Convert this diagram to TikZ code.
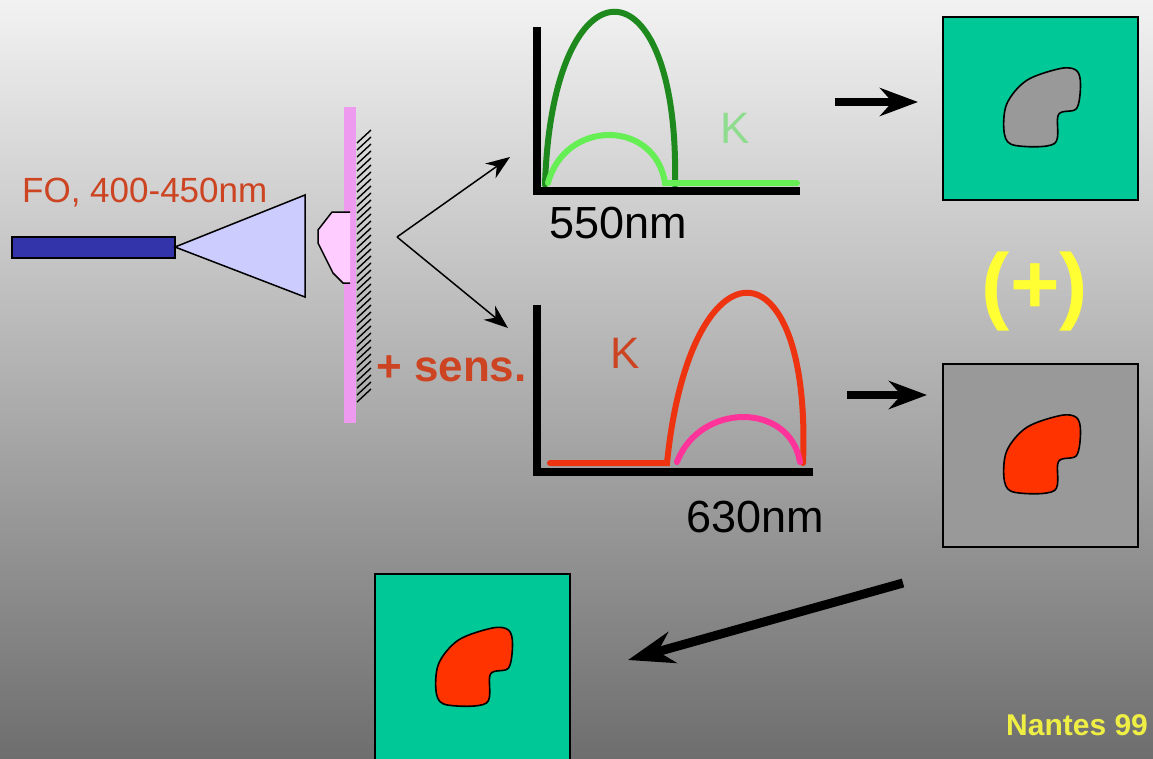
\documentclass[tikz,border=0pt]{standalone}
\usepackage{fontspec}
\setmainfont{Liberation Sans}
\usepackage{tikz}
\usetikzlibrary{arrows.meta}
\definecolor{fbgtop}{HTML}{F2F2F2}
\definecolor{fbgmid}{HTML}{B2B2B2}
\definecolor{fbgbot}{HTML}{6E6E6E}
\definecolor{ffiber}{HTML}{3333AA}
\definecolor{fcone}{HTML}{CCCCFF}
\definecolor{fbar}{HTML}{EE9AEE}
\definecolor{fdrop}{HTML}{FFCCFF}
\definecolor{fdgreen}{HTML}{1E8A1E}
\definecolor{flgreen}{HTML}{66EE55}
\definecolor{fkgreen}{HTML}{8EDC8E}
\definecolor{fred}{HTML}{EE3311}
\definecolor{fpinkc}{HTML}{FF3399}
\definecolor{ftxtred}{HTML}{CC4422}
\definecolor{fteal}{HTML}{00C896}
\definecolor{fgrayimg}{HTML}{999999}
\definecolor{fblobred}{HTML}{FF3300}
\definecolor{fyellow}{HTML}{FFFF33}
\definecolor{fnantes}{HTML}{EEEE44}
\tikzset{
  >={Stealth[length=24pt,width=18pt]},
  faxis/.style={black, line width=8pt},
  fcurve/.style={line width=6pt, line cap=round},
  fthin/.style={->, black, line width=1.5pt},
  fbig/.style={black, line width=8pt, -{Stealth[length=38pt,width=28pt]}},
  fhuge/.style={black, line width=9pt, -{Stealth[length=46pt,width=32pt]}},
  fimg/.style={draw=black, line width=2pt, minimum width=195pt,
               minimum height=183pt, inner sep=0pt},
  ftxt/.style={inner sep=0pt, anchor=base west},
  fnm/.style={ftxt, black, font=\fontsize{45}{50}\selectfont},
  fblob/.pic={\draw[line width=1.6pt, pic actions] plot[smooth cycle, tension=0.55]
      coordinates {(36,-38) (20,-40) (-14,-28) (-34,-4) (-36,26) (-25,37)
                   (14,35) (18,6) (36,0) (40,-24)};},
}
\begin{document}
\begin{tikzpicture}[x=1pt,y=-1pt]

  \shade[top color=fbgtop, middle color=fbgmid, bottom color=fbgbot]
        (0,0) rectangle (1153,758);
  \useasboundingbox (0,0) rectangle (1153,758);

  % source
  \draw[fill=ffiber, line width=1.5pt] (12,237) rectangle (175,258);
  \draw[fill=fcone, line width=1.5pt] (175,247) -- (305,195) -- (305,297) -- cycle;
  \node[ftxt, ftxtred, font=\fontsize{35}{40}\selectfont] (fo) at (22,202) {FO, 400-450nm};

  % sample
  \fill[fbar] (344,107) rectangle (356,423);
  \fill[fdrop] (350,212) -- (332,212) -- (318,230) -- (318,243) -- (333,273)
        -- (343,283) -- (350,283) -- cycle;
  \draw[line width=1.5pt] (350,212) -- (332,212) -- (318,230) -- (318,243)
        -- (333,273) -- (343,283) -- (350,283);
  \foreach \y in {143,150,...,407}
    \draw[line width=1.4pt] (357,\y) -- (371,\y-13);
  \node[ftxt, ftxtred, font=\bfseries\fontsize{44}{48}\selectfont] (sens) at (376,381) {+ sens.};

  \coordinate (split) at (397,237);
  \coordinate (g1in) at (510,157);
  \coordinate (g2in) at (508,328);
  \draw[fthin] (split) -- (g1in);
  \draw[fthin] (split) -- (g2in);

  % spectrum 550nm
  \draw[fdgreen, fcurve] (545,185) .. controls (552,-46) and (680,-46) .. (675,185);
  \draw[flgreen, fcurve] (548,183) .. controls (565,119) and (655,119) .. (665,183) -- (797,183);
  \draw[faxis] (537,27) -- (537,191) -- (800,191);
  \node[ftxt, fkgreen, font=\fontsize{44}{48}\selectfont] (k1) at (720,143) {K};
  \node[fnm] (nm1) at (549,238) {550nm};

  % spectrum 630nm
  \draw[fred, fcurve] (550,463) -- (667,463) .. controls (690,236) and (812,236) .. (803,463);
  \draw[fpinkc, fcurve] (677,462) .. controls (700,402) and (790,402) .. (800,462);
  \draw[faxis] (537,305) -- (537,472) -- (813,472);
  \node[ftxt, ftxtred, font=\fontsize{44}{48}\selectfont] (k2) at (610,368) {K};
  \node[fnm] (nm2) at (686,532) {630nm};

  % images
  \node[fimg, fill=fteal] (img1) at (1040.5,108.5) {};
  \pic[fill=fgrayimg] at (img1.center) {fblob};
  \node[fimg, fill=fgrayimg] (img2) at (1040.5,455.5) {};
  \pic[fill=fblobred] at (img2.center) {fblob};
  \node[fimg, fill=fteal, minimum height=188pt] (img3) at (472.5,668) {};
  \pic[fill=fblobred] at (img3.center) {fblob};

  \node[fyellow, font=\bfseries\fontsize{85}{90}\selectfont, inner sep=0pt] (plus) at (1035,292) {(+)};

  \coordinate (a1) at (835,102);
  \coordinate (b1) at (918,102);
  \coordinate (a2) at (847,395);
  \coordinate (b2) at (927,395);
  \coordinate (a3) at (903,583);
  \coordinate (b3) at (628,660);
  \draw[fbig] (a1) -- (b1);
  \draw[fbig] (a2) -- (b2);
  \draw[fhuge] (a3) -- (b3);

  \node[ftxt, fnantes, font=\bfseries\fontsize{30}{32}\selectfont] (nantes) at (1006,735) {Nantes 99};

\end{tikzpicture}
\end{document}
